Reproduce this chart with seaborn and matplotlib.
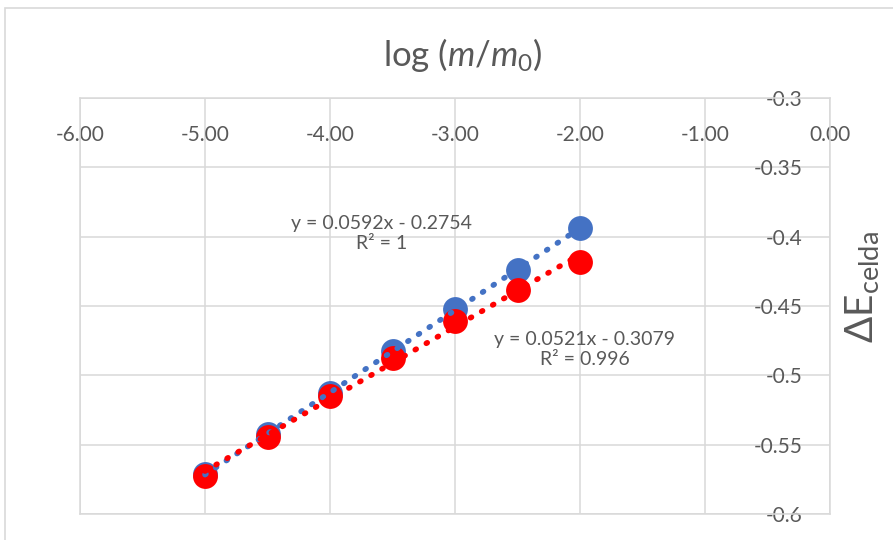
import numpy as np
import matplotlib
matplotlib.use('Agg')
import matplotlib.pyplot as plt
from matplotlib.patches import Rectangle
import seaborn as sns

# datos
LOG_M = [-5.0, -4.5, -4.0, -3.5, -3.0, -2.5, -2.0]
E_AZUL = [-0.5712, -0.5425, -0.5125, -0.4828, -0.4525, -0.4238, -0.3938]
E_ROJO = [-0.5726, -0.5443, -0.5150, -0.4873, -0.4610, -0.4385, -0.4182]

X_TICKS = [-6, -5, -4, -3, -2, -1, 0]
X_TICK_LABELS = ['-6.00', '-5.00', '-4.00', '-3.00', '-2.00', '-1.00', '0.00']
Y_TICKS = [-0.6, -0.55, -0.5, -0.45, -0.4, -0.35, -0.3]
Y_TICK_LABELS = ['-0.6', '-0.55', '-0.5', '-0.45', '-0.4', '-0.35', '-0.3']

EQ_AZUL = 'y = 0.0592x - 0.2754\nR² = 1'
EQ_ROJO = 'y = 0.0521x - 0.3079\nR² = 0.996'

AZUL = '#4472C4'
ROJO = '#FF0000'
GRIS_TXT = '#595959'
GRIS_LIN = '#D9D9D9'

sns.set_style('white')
plt.rcParams['font.family'] = ['Lato', 'DejaVu Sans']
plt.rcParams['mathtext.fontset'] = 'custom'
plt.rcParams['mathtext.rm'] = 'Lato'
plt.rcParams['mathtext.it'] = 'Lato:italic'

fig = plt.figure(figsize=(8.93, 5.40), dpi=100)
ax = fig.add_axes([80 / 893, 1 - 514 / 540, 750 / 893, 416 / 540])

# borde exterior del grafico
fig.patches.append(Rectangle((5 / 893, -0.01), 1.0, 0.995, transform=fig.transFigure,
                             fill=False, edgecolor=GRIS_LIN, linewidth=1.2))

for yy, col in [(E_AZUL, AZUL), (E_ROJO, ROJO)]:
    sns.regplot(x=np.array(LOG_M), y=np.array(yy), ax=ax, ci=None, truncate=True,
                scatter_kws=dict(s=320, color=col, alpha=1, linewidths=0, zorder=3),
                line_kws=dict(color=col, linewidth=4.0, linestyle=(0, (0.2, 2.1)),
                              dash_capstyle='round', zorder=4))

ax.set_xlim(-6, 0)
ax.set_ylim(-0.6, -0.3)
ax.set_xlabel('')
ax.set_ylabel('')
ax.set_xticks(X_TICKS)
ax.set_xticklabels(X_TICK_LABELS)
ax.set_yticks(Y_TICKS)
ax.set_yticklabels(Y_TICK_LABELS)
ax.grid(True, color=GRIS_LIN, linewidth=1.1, zorder=0)
ax.set_axisbelow(True)
for s in ax.spines.values():
    s.set_color(GRIS_LIN)
    s.set_linewidth(1.1)

ax.xaxis.tick_top()
ax.yaxis.tick_right()
ax.tick_params(axis='x', length=0, pad=-34, labelsize=15, labelcolor=GRIS_TXT)
ax.tick_params(axis='y', length=0, pad=-20, labelsize=15, labelcolor=GRIS_TXT)
for lbl in ax.get_yticklabels():
    lbl.set_horizontalalignment('right')

ax.text(-3.59, -0.398, EQ_AZUL, ha='center', va='center', fontsize=14,
        color=GRIS_TXT, linespacing=1.2)
ax.text(-1.96, -0.4814, EQ_ROJO, ha='center', va='center', fontsize=14,
        color=GRIS_TXT, linespacing=1.2)

fig.text(463 / 893, 1 - 55 / 540, r'log ($\mathit{m/m_0}$)', ha='center', va='center',
         fontsize=25, color=GRIS_TXT)
fig.text(862 / 893, 1 - 287 / 540, r'ΔE$_{\mathrm{celda}}$', ha='center', va='center',
         rotation=90, fontsize=28, color=GRIS_TXT)

fig.savefig('out.png', dpi=100)
